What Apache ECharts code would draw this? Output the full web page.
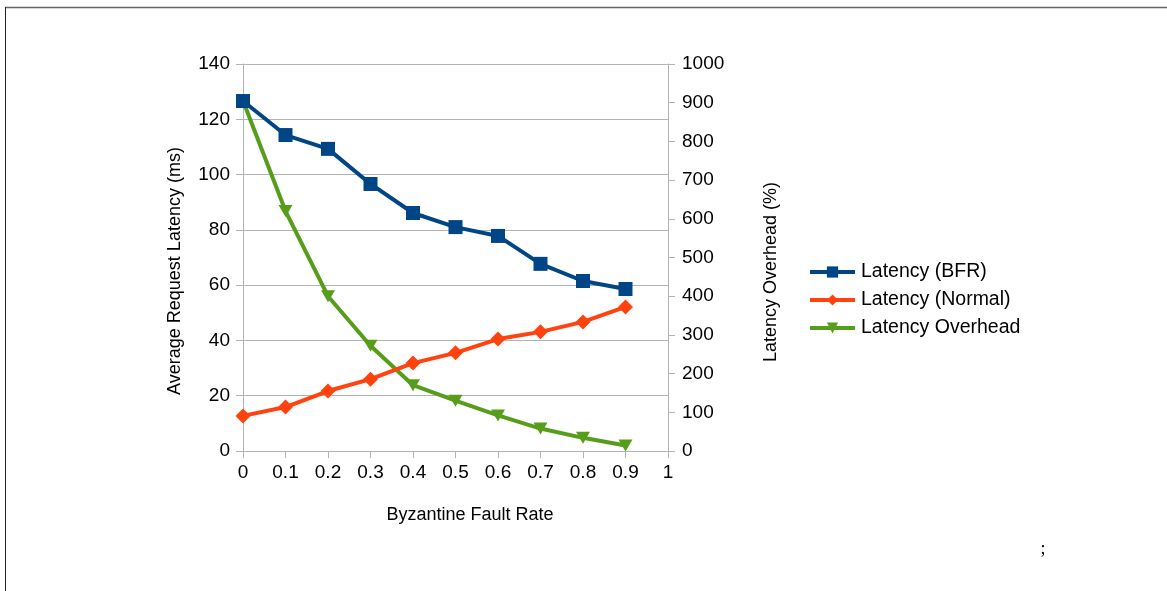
<!DOCTYPE html>
<html>
<head>
<meta charset="utf-8">
<script src="https://cdn.jsdelivr.net/npm/echarts@6/dist/echarts.min.js"></script>
<style>
  html, body { margin: 0; padding: 0; background: #ffffff; }
  #chart { width: 1167px; height: 591px; }
</style>
</head>
<body>
<div id="chart"></div>
<script>
// Fault rates on the x axis
var faultRates = [0, 0.1, 0.2, 0.3, 0.4, 0.5, 0.6, 0.7, 0.8, 0.9];
// Average request latency (ms) with BFR enabled
var latencyBFR = [126.6, 114.3, 109.3, 96.6, 86.1, 81.0, 77.8, 67.7, 61.5, 58.6];
// Average request latency (ms) under normal operation
var latencyNormal = [12.7, 15.9, 21.7, 26.0, 31.8, 35.5, 40.5, 43.1, 46.7, 52.1];
// Latency overhead (%) on the right axis
var latencyOverhead = [905, 620, 400, 272, 170, 130, 92, 58, 34, 14];

var seriesNames = ['Latency (BFR)', 'Latency (Normal)', 'Latency Overhead'];
var axisTitles = {
  x: 'Byzantine Fault Rate',
  left: 'Average Request Latency (ms)',
  right: 'Latency Overhead (%)'
};

function pairs(xs, ys) {
  return xs.map(function (x, i) { return [x, ys[i]]; });
}

var FONT = '"Liberation Sans", Arial, sans-serif';
var GRID_GRAY = '#b3b3b3';

var chart = echarts.init(document.getElementById('chart'), null, { renderer: 'canvas' });

chart.setOption({
  animation: false,
  backgroundColor: '#ffffff',
  textStyle: { fontFamily: FONT, color: '#000' },
  grid: { left: 243, right: 499, top: 64, bottom: 140, containLabel: false },
  legend: {
    orient: 'vertical',
    left: 808,
    top: 262,
    padding: 0,
    itemWidth: 45,
    itemHeight: 14,
    itemGap: 8,
    lineStyle: { width: 4 },
    textStyle: { fontFamily: FONT, fontSize: 19.5, color: '#000', lineHeight: 20, padding: [0, 0, 0, 1] },
    data: seriesNames
  },
  xAxis: {
    type: 'value',
    min: 0,
    max: 1,
    interval: 0.1,
    axisLine: { show: true, lineStyle: { color: GRID_GRAY, width: 1 } },
    axisTick: { show: true, inside: false, length: 7, lineStyle: { color: GRID_GRAY } },
    splitLine: { show: false },
    axisLabel: {
      margin: 12,
      fontSize: 19,
      color: '#000',
      fontFamily: FONT,
      formatter: function (v) { return String(+v.toFixed(1)); }
    }
  },
  yAxis: [
    {
      type: 'value',
      position: 'left',
      min: 0,
      max: 140,
      interval: 20,
      axisLine: { show: true, lineStyle: { color: GRID_GRAY, width: 1 } },
      axisTick: { show: true, inside: false, length: 7, lineStyle: { color: GRID_GRAY } },
      splitLine: { show: true, lineStyle: { color: GRID_GRAY, width: 1 } },
      axisLabel: { margin: 13, fontSize: 19, color: '#000', fontFamily: FONT, formatter: function (v) { return String(v); } }
    },
    {
      type: 'value',
      position: 'right',
      min: 0,
      max: 1000,
      interval: 100,
      axisLine: { show: true, lineStyle: { color: GRID_GRAY, width: 1 } },
      axisTick: { show: true, inside: false, length: 7, lineStyle: { color: GRID_GRAY } },
      splitLine: { show: false },
      axisLabel: { margin: 14, fontSize: 19, color: '#000', fontFamily: FONT, formatter: function (v) { return String(v); } }
    }
  ],
  series: [
    {
      name: seriesNames[0],
      type: 'line',
      yAxisIndex: 0,
      z: 4,
      data: pairs(faultRates, latencyBFR),
      symbol: 'rect',
      symbolSize: 14,
      lineStyle: { color: '#004586', width: 4 },
      itemStyle: { color: '#004586' }
    },
    {
      name: seriesNames[1],
      type: 'line',
      yAxisIndex: 0,
      z: 3,
      data: pairs(faultRates, latencyNormal),
      symbol: 'diamond',
      symbolSize: 15,
      lineStyle: { color: '#ff420e', width: 4 },
      itemStyle: { color: '#ff420e' }
    },
    {
      name: seriesNames[2],
      type: 'line',
      yAxisIndex: 1,
      z: 2,
      data: pairs(faultRates, latencyOverhead),
      symbol: 'triangle',
      symbolRotate: 180,
      symbolSize: [14, 12],
      lineStyle: { color: '#579d1c', width: 4 },
      itemStyle: { color: '#579d1c' }
    }
  ],
  graphic: [
    // page frame
    { type: 'line', silent: true, shape: { x1: 5, y1: 7.5, x2: 1167, y2: 7.5 }, style: { stroke: '#666', lineWidth: 1.5 } },
    { type: 'line', silent: true, shape: { x1: 5.5, y1: 7, x2: 5.5, y2: 591 }, style: { stroke: '#222', lineWidth: 1 } },
    // axis titles
    {
      type: 'text', silent: true, x: 470, y: 515,
      style: { text: axisTitles.x, fontFamily: FONT, fontSize: 18, fill: '#000', textAlign: 'center', textVerticalAlign: 'middle' }
    },
    {
      type: 'text', silent: true, x: 175, y: 271, rotation: Math.PI / 2,
      style: { text: axisTitles.left, fontFamily: FONT, fontSize: 18, fill: '#000', textAlign: 'center', textVerticalAlign: 'middle' }
    },
    {
      type: 'text', silent: true, x: 771, y: 272, rotation: Math.PI / 2,
      style: { text: axisTitles.right, fontFamily: FONT, fontSize: 18, fill: '#000', textAlign: 'center', textVerticalAlign: 'middle' }
    },
    {
      type: 'text', silent: true, x: 1043, y: 549,
      style: { text: ';', fontFamily: '"Liberation Serif", serif', fontSize: 18, fill: '#000', textAlign: 'center', textVerticalAlign: 'middle' }
    }
  ]
});
</script>
</body>
</html>
